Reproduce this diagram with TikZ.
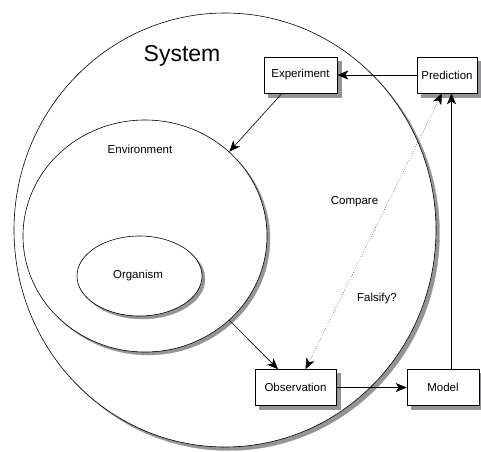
\documentclass[tikz,border=0pt]{standalone}
\usepackage{fontspec}
\setmainfont{Liberation Sans}
\usetikzlibrary{shapes.geometric,arrows.meta}

\definecolor{shadowgrey}{RGB}{148,148,152}

\begin{document}
\begin{tikzpicture}[x=1pt,y=1pt,
  zone/.style={ellipse, draw, fill=white, line width=0.6pt, inner sep=0pt},
  stepbox/.style={rectangle, draw, fill=white, line width=0.6pt, minimum height=36pt,
                  inner sep=0pt, font=\fontsize{11.5}{13}\selectfont},
  txt/.style={font=\fontsize{11.5}{13}\selectfont, inner sep=0pt},
  castshadow/.style={fill=shadowgrey, draw=shadowgrey, line width=0.3pt},
  flowline/.style={-{Stealth[length=11pt,width=9pt,inset=3pt]}, line width=0.6pt},
  twoway/.style={{Stealth[length=11pt,width=9pt,inset=3pt]}-{Stealth[length=11pt,width=9pt,inset=3pt]},
                 line width=0.5pt, dotted}]
\useasboundingbox (0,0) rectangle (481,451);

% nested regions, each on its own offset shadow
\filldraw[castshadow] (228.5,217.5) ellipse [x radius=211, y radius=217];
\node[zone, minimum width=422pt, minimum height=434pt] (sys) at (225,221) {};
\filldraw[castshadow] (148,212) ellipse [x radius=122, y radius=116];
\node[zone, minimum width=244pt, minimum height=232pt] (env) at (145,215) {};
\filldraw[castshadow] (142.5,172) ellipse [x radius=62.5, y radius=40];
\node[zone, minimum width=125pt, minimum height=80pt] (org) at (139.5,175) {};

\node[txt, font=\fontsize{23}{26}\selectfont] (systxt) at (182,395) {System};
\node[txt] (envtxt) at (140,302) {Environment};
\node[txt] (orgtxt) at (138,175) {Organism};

% shadows of the stage boxes
\filldraw[castshadow] (268,354) rectangle (341,390);
\filldraw[castshadow] (421,354) rectangle (480.5,390);
\filldraw[castshadow] (259,41.5) rectangle (340,77.5);
\filldraw[castshadow] (411,41.5) rectangle (480.5,77.5);

% stages of the cycle
\node[stepbox, minimum width=73pt] (exp)  at (300.5,376)  {Experiment};
\node[stepbox, minimum width=60pt] (pred) at (447,376)    {Prediction};
\node[stepbox, minimum width=81pt] (obs)  at (295.5,63.5) {Observation};
\node[stepbox, minimum width=72pt] (mod)  at (443,63.5)   {Model};

% connectors
\draw[flowline] (pred.west) -- (exp.east);
\draw[flowline] ([xshift=-18.5pt]exp.south) -- (env.45);
\draw[flowline] (env.-45) -- ([xshift=-17.5pt]obs.north);
\draw[flowline] (obs.east) -- (mod.west);
\draw[flowline] ([xshift=8.5pt]mod.north) -- ([xshift=8.5pt]mod.north |- pred.south);
\draw[twoway] ([xshift=10pt]obs.north) -- ([xshift=-5pt]pred.south);

\node[txt] (cmp) at (354.5,249) {Compare};
\node[txt] (fal) at (377,152) {Falsify?};
\end{tikzpicture}
\end{document}
